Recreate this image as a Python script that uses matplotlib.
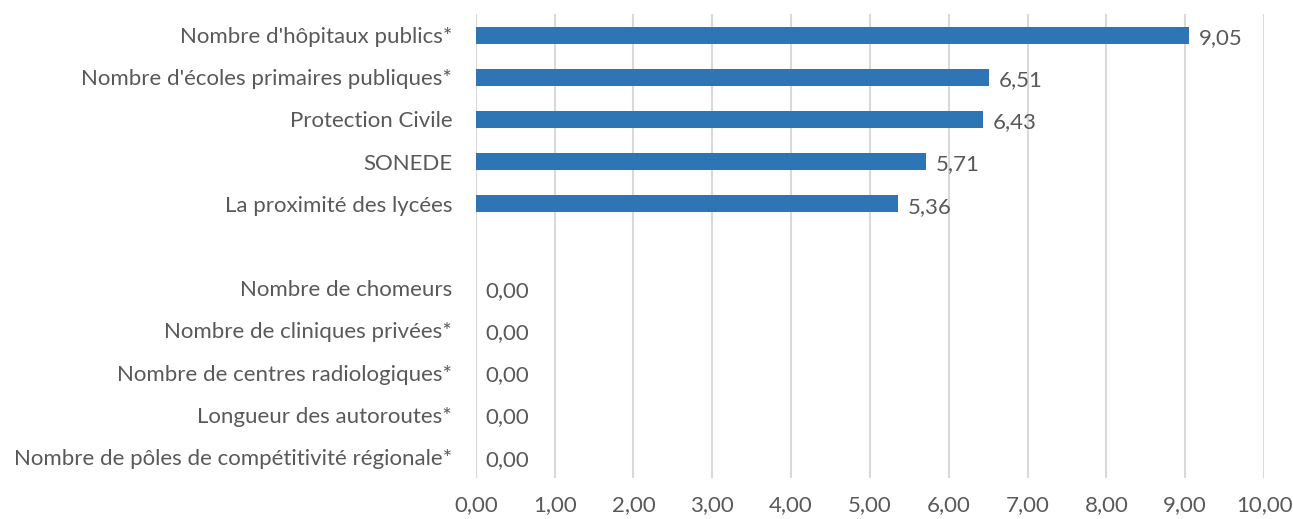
import matplotlib.pyplot as plt
import numpy as np

# Data (top to bottom); the empty entry is the blank row in the chart
categories = [
    "Nombre d'hôpitaux publics*",
    "Nombre d'écoles primaires publiques*",
    "Protection Civile",
    "SONEDE",
    "La proximité des lycées",
    "",
    "Nombre de chomeurs",
    "Nombre de cliniques privées*",
    "Nombre de centres radiologiques*",
    "Longueur des autoroutes*",
    "Nombre de pôles de compétitivité régionale*",
]
values = [9.05, 6.51, 6.43, 5.71, 5.36, None, 0.00, 0.00, 0.00, 0.00, 0.00]
x_ticks = np.arange(0, 11, 1)

plt.rcParams['font.family'] = ['Lato', 'DejaVu Sans']
text_color = '#595959'
bar_color = '#2E75B6'

fig = plt.figure(figsize=(12.93, 5.19), dpi=100)
ax = fig.add_axes([0.368, 0.079, 0.6096, 0.894])

y = np.arange(len(categories))
vals = [v if v is not None else 0 for v in values]
ax.barh(y, vals, height=0.4, color=bar_color, zorder=3)

for yi, v in zip(y, values):
    if v is None:
        continue
    ax.annotate(f"{v:.2f}".replace('.', ','), xy=(v, yi), xytext=(7, -2),
                textcoords='offset points', va='center', ha='left',
                fontsize=16, color=text_color)

ax.set_ylim(len(categories) - 0.5, -0.5)
ax.set_xlim(0, 10)
ax.set_yticks(y)
ax.set_yticklabels(categories, fontsize=16, color=text_color)
ax.set_xticks(x_ticks)
ax.set_xticklabels([f"{t:.2f}".replace('.', ',') for t in x_ticks], fontsize=16, color=text_color)
ax.tick_params(axis='both', length=0)
ax.tick_params(axis='y', pad=17)
ax.tick_params(axis='x', pad=12)

ax.grid(axis='x', color='#D9D9D9', linewidth=1.5, zorder=0)
for s in ax.spines.values():
    s.set_visible(False)

fig.savefig("out.png", dpi=100)
